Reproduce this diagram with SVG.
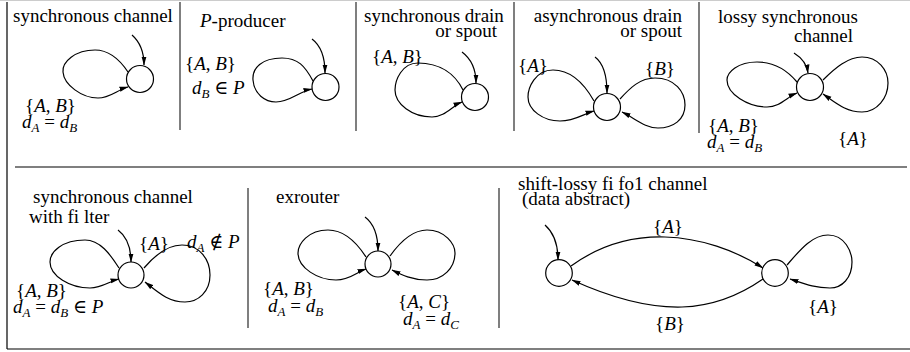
<svg xmlns="http://www.w3.org/2000/svg" width="910" height="352" viewBox="0 0 910 352">
<defs>
<marker id="ah" markerWidth="9" markerHeight="6" refX="8.5" refY="3" orient="auto" markerUnits="userSpaceOnUse"><path d="M0,0.5 L9,3 L0,5.5 z" fill="#000"/></marker>
<style>
text{font-size:19px;fill:#000}
.i{font-style:italic}
.s{font-size:13px;font-style:italic}
.node{fill:#fff;stroke:#000;stroke-width:1.2}
.e{fill:none;stroke:#000;stroke-width:1.2;marker-end:url(#ah)}
.frame{stroke:#000;stroke-width:1.2;fill:none}
.div{stroke:#555;stroke-width:1.5}
</style>
</defs>
<g id="frame">
<line x1="0" y1="0.5" x2="910" y2="0.5" stroke="#ccc" stroke-width="1"/>
<line class="frame" x1="7" y1="2" x2="7" y2="349"/>
<line class="frame" x1="7" y1="349" x2="910" y2="349"/>
<line class="frame" x1="15" y1="167" x2="907" y2="167"/>
<line class="div" x1="180" y1="2" x2="180" y2="130"/>
<line class="div" x1="356" y1="2" x2="356" y2="131"/>
<line class="div" x1="514" y1="2" x2="514" y2="131"/>
<line class="div" x1="699" y1="2" x2="699" y2="133"/>
<line class="div" x1="248" y1="188" x2="248" y2="328"/>
<line class="div" x1="499" y1="188" x2="499" y2="328"/>
</g>
<g id="connectors">
<path class="e" d="M132,35 C140,42 144,52 144,65"/>
<path class="e" d="M128,72 C118,57 108,50 95,50 C75,50 62,62 63,72 C64,85 82,98 98,98 C110,98 117,90 128,87"/>
<path class="e" d="M312,39 C320,45 325,56 325,73"/>
<path class="e" d="M313,81 C305,66 298,58 282,58 C262,58 252,68 253,80 C254,94 265,102 276,102 C290,102 300,91 312,89"/>
<path class="e" d="M462,52 C470,58 476,68 476,83"/>
<path class="e" d="M463,90 C455,74 440,63 418,63 C402,63 395,80 395,90 C395,104 412,117 432,117 C445,117 452,106 462,102"/>
<path class="e" d="M595,57 C603,63 607,74 607,93"/>
<path class="e" d="M594,101 C585,85 572,70 553,70 C535,70 528,88 528,97 C528,110 543,121 560,121 C575,121 583,114 594,111"/>
<path class="e" d="M620,99 C630,88 640,78 655,78 C675,78 685,92 685,105 C685,120 673,128 658,128 C645,128 636,119 622,112"/>
<path class="e" d="M794,53 C802,58 807,65 808,73"/>
<path class="e" d="M797,82 C787,70 775,62 757,62 C738,62 727,72 727,80 C727,94 748,107 767,107 C780,107 787,97 797,93"/>
<path class="e" d="M823,80 C835,68 848,57 862,57 C878,57 888,70 888,83 C888,98 877,112 862,112 C846,112 836,103 823,94"/>
<path class="e" d="M118,230 C126,236 131,246 131,262"/>
<path class="e" d="M119,268 C110,254 100,240 85,240 C62,240 50,252 50,262 C50,276 70,288 90,288 C102,288 110,281 119,279"/>
<path class="e" d="M144,268 C155,255 168,245 182,245 C200,245 210,260 210,275 C210,292 198,302 185,302 C168,302 158,292 145,282"/>
<path class="e" d="M365,217 C373,223 378,233 378,251"/>
<path class="e" d="M366,257 C357,243 345,230 328,230 C308,230 298,244 298,253 C298,268 318,280 336,280 C350,280 357,272 366,269"/>
<path class="e" d="M390,256 C400,242 412,230 427,230 C445,230 455,244 455,253 C455,268 443,280 427,280 C412,280 402,275 392,270"/>
<path class="e" d="M545,225 C553,232 558,242 558,260"/>
<path class="e" d="M571,266 C600,245 630,236 665,237 C700,238 735,250 763,268"/>
<path class="e" d="M763,279 C740,295 715,306 682,307 C645,308 605,295 572,280"/>
<path class="e" d="M787,265 C800,250 812,235 828,235 C845,235 852,252 852,262 C852,278 842,288 830,288 C815,288 805,284 790,279"/>
</g>
<g font-family="'Liberation Serif', 'DejaVu Serif', serif">
<g id="sync-channel">
<circle class="node" cx="140" cy="79" r="13.5"/>
<text x="13" y="22">synchronous channel</text>
<text x="25" y="112">{<tspan class="i">A</tspan>, <tspan class="i">B</tspan>}</text>
<text x="22" y="128"><tspan class="i">d</tspan><tspan class="s" dy="4">A</tspan><tspan dy="-4"> = </tspan><tspan class="i">d</tspan><tspan class="s" dy="4">B</tspan></text>
</g>
<g id="p-producer">
<circle class="node" cx="325.5" cy="87" r="13.5"/>
<text x="200" y="27"><tspan class="i">P</tspan>-producer</text>
<text x="185" y="70">{<tspan class="i">A</tspan>, <tspan class="i">B</tspan>}</text>
<text x="192" y="94"><tspan class="i">d</tspan><tspan class="s" dy="4">B</tspan><tspan dy="-4"> ∈ </tspan><tspan class="i">P</tspan></text>
</g>
<g id="sync-drain">
<circle class="node" cx="475" cy="97" r="13.5"/>
<text x="364" y="22">synchronous drain</text>
<text x="497" y="37" text-anchor="end">or spout</text>
<text x="372" y="63">{<tspan class="i">A</tspan>, <tspan class="i">B</tspan>}</text>
</g>
<g id="async-drain">
<circle class="node" cx="607" cy="107" r="13.5"/>
<text x="682" y="22" text-anchor="end">asynchronous drain</text>
<text x="682" y="37" text-anchor="end">or spout</text>
<text x="518" y="72">{<tspan class="i">A</tspan>}</text>
<text x="645" y="75">{<tspan class="i">B</tspan>}</text>
</g>
<g id="lossy-sync">
<circle class="node" cx="810" cy="87" r="13.5"/>
<text x="718" y="23">lossy synchronous</text>
<text x="794" y="42">channel</text>
<text x="708" y="132">{<tspan class="i">A</tspan>, <tspan class="i">B</tspan>}</text>
<text x="707" y="148"><tspan class="i">d</tspan><tspan class="s" dy="4">A</tspan><tspan dy="-4"> = </tspan><tspan class="i">d</tspan><tspan class="s" dy="4">B</tspan></text>
<text x="838" y="145">{<tspan class="i">A</tspan>}</text>
</g>
<g id="sync-filter">
<circle class="node" cx="131" cy="275" r="13"/>
<text x="33" y="203">synchronous channel</text>
<text x="29" y="223">with fi lter</text>
<text x="139" y="250">{<tspan class="i">A</tspan>}</text>
<text x="187" y="248"><tspan class="i">d</tspan><tspan class="s" dy="4">A</tspan><tspan dy="-4"> ∉ </tspan><tspan class="i">P</tspan></text>
<text x="16" y="297">{<tspan class="i">A</tspan>, <tspan class="i">B</tspan>}</text>
<text x="13" y="313"><tspan class="i">d</tspan><tspan class="s" dy="4">A</tspan><tspan dy="-4"> = </tspan><tspan class="i">d</tspan><tspan class="s" dy="4">B</tspan><tspan dy="-4"> ∈ </tspan><tspan class="i">P</tspan></text>
</g>
<g id="exrouter">
<circle class="node" cx="378" cy="264" r="13"/>
<text x="276" y="203">exrouter</text>
<text x="263" y="295">{<tspan class="i">A</tspan>, <tspan class="i">B</tspan>}</text>
<text x="268" y="312"><tspan class="i">d</tspan><tspan class="s" dy="4">A</tspan><tspan dy="-4"> = </tspan><tspan class="i">d</tspan><tspan class="s" dy="4">B</tspan></text>
<text x="398" y="308">{<tspan class="i">A</tspan>, <tspan class="i">C</tspan>}</text>
<text x="403" y="325"><tspan class="i">d</tspan><tspan class="s" dy="4">A</tspan><tspan dy="-4"> = </tspan><tspan class="i">d</tspan><tspan class="s" dy="4">C</tspan></text>
</g>
<g id="shift-lossy-fifo1">
<circle class="node" cx="559" cy="273" r="13.3"/>
<circle class="node" cx="775" cy="273" r="13.3"/>
<text x="518" y="190">shift-lossy fi fo1 channel</text>
<text x="522" y="205">(data abstract)</text>
<text x="653" y="233">{<tspan class="i">A</tspan>}</text>
<text x="655" y="330">{<tspan class="i">B</tspan>}</text>
<text x="808" y="313">{<tspan class="i">A</tspan>}</text>
</g>
</g>
</svg>
